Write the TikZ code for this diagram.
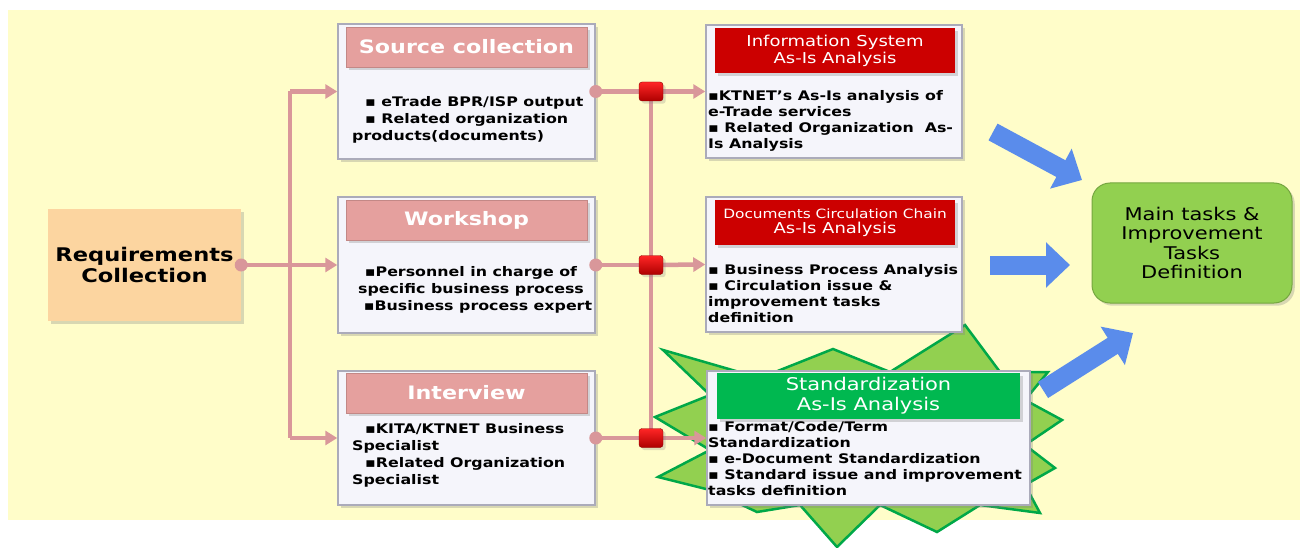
\documentclass[tikz,border=0pt]{standalone}
\usepackage{fontspec}
\setmainfont[FakeStretch=1.2]{DejaVu Sans}
\usepackage{tikz}
\usetikzlibrary{shadows,arrows.meta,positioning}

\definecolor{bgyellow}{HTML}{FFFDC9}
\definecolor{reqfill}{HTML}{FCD5A0}
\definecolor{pinkline}{HTML}{D9979A}
\definecolor{pinkhead}{HTML}{E5A09E}
\definecolor{cardfill}{HTML}{F5F5FB}
\definecolor{cardline}{HTML}{ABABBA}
\definecolor{redhead}{HTML}{CC0000}
\definecolor{greenhead}{HTML}{00B850}
\definecolor{burst}{HTML}{92D050}
\definecolor{burstline}{HTML}{00A848}
\definecolor{bluearrow}{HTML}{5A8CEB}

\begin{document}
\begin{tikzpicture}[x=1pt,y=-1pt,
  card/.style={draw=cardline,fill=cardfill,line width=1.5pt,drop shadow={opacity=0.3}},
  pinktitle/.style={fill=pinkhead,draw=pinkhead!85!black,text=white,minimum width=241pt,minimum height=40pt,
    font=\fontsize{18.5}{20}\selectfont\bfseries,drop shadow={opacity=0.3}},
  redtitle/.style={fill=redhead,text=white,align=center,minimum width=240pt,minimum height=45pt,
    inner sep=0pt,drop shadow={opacity=0.3}},
  body/.style={inner sep=0pt,text=black,font=\fontsize{13.2}{17}\selectfont\bfseries},
  rbody/.style={body,anchor=west,align=left,font=\fontsize{13.2}{16}\selectfont\bfseries},
  link/.style={draw=pinkline,line width=4.5pt},
  linkto/.style={link,-{Triangle[length=12pt,width=14pt]}},
  hub/.style={top color=red!85!white,bottom color=redhead!85!black,draw=redhead!70!black,rounded corners=3pt,
    minimum width=24pt,minimum height=19pt,inner sep=0pt,drop shadow={opacity=0.25}},
  fat/.style={draw=bluearrow,line width=19pt,-{Triangle[length=24pt,width=44pt]}}]

% background
\fill[bgyellow] (8,10) rectangle (1300,520);
\useasboundingbox (0,0) rectangle (1308,548);

% burst behind the standardization box
\filldraw[fill=burst,draw=burstline,line width=2.5pt,line join=miter]
  (663,350) -- (760,378) -- (833,349) -- (890,372) -- (965,325) -- (1000,372)
  -- (1048,372) -- (1025,400) -- (1062,420) -- (1025,445) -- (1055,468)
  -- (1025,485) -- (1040,513) -- (980,505) -- (937,532) -- (880,505)
  -- (837,547) -- (800,505) -- (757,512) -- (710,490) -- (658,477)
  -- (710,450) -- (655,417) -- (710,395) -- cycle;

% left
\node[fill=reqfill,minimum width=193pt,minimum height=112pt,align=center,
  font=\fontsize{18.8}{21}\selectfont\bfseries,drop shadow={opacity=0.3}] (req) at (144.5,265)
  {Requirements\\Collection};

% sources
\node[card,minimum width=257pt,minimum height=135pt] (src) at (466.5,91.5) {};
\node[pinktitle] (srchead) at (466.5,47) {Source collection};
\node[body,anchor=west,align=left] (srctxt) at (352,119.5)
  {\hspace*{13pt}▪ eTrade BPR/ISP output\\\hspace*{13pt}▪ Related organization\\products(documents)};

\node[card,minimum width=257pt,minimum height=136pt] (wsp) at (466.5,265) {};
\node[pinktitle] (wsphead) at (466.5,220) {Workshop};
\node[body,align=center] (wsptxt) at (471,290)
  {▪Personnel in charge of\\specific business process\\\hspace*{14pt}▪Business process expert};

\node[card,minimum width=257pt,minimum height=134pt] (itv) at (466.5,438) {};
\node[pinktitle] (itvhead) at (466.5,393) {Interview};
\node[body,anchor=west,align=left] (itvtxt) at (352,455.5)
  {\hspace*{13pt}▪KITA/KTNET Business\\Specialist\\\hspace*{13pt}▪Related Organization\\Specialist};

% analysis boxes
\node[card,minimum width=256pt,minimum height=133pt] (info) at (834,91.5) {};
\node[redtitle,font=\fontsize{15}{17}\selectfont] (infohead) at (835,50.5)
  {Information System\\As-Is Analysis};
\node[rbody] (infotxt) at (708,121)
  {▪KTNET’s As-Is analysis of\\e-Trade services\\▪ Related Organization\ \ As-\\Is Analysis};

\node[card,minimum width=256pt,minimum height=135pt] (docs) at (834,264.5) {};
\node[redtitle] (docshead) at (835,222.5)
  {{\fontsize{12.8}{17}\selectfont Documents Circulation Chain}\\[3pt]{\fontsize{15}{17}\selectfont As-Is Analysis}};
\node[rbody] (docstxt) at (708,294)
  {▪ Business Process Analysis\\▪ Circulation issue \&\\improvement tasks\\definition};

\node[card,minimum width=323pt,minimum height=134pt] (std) at (868.5,438) {};
\node[redtitle,fill=greenhead,minimum width=303pt,minimum height=46pt,
  font=\fontsize{17.5}{20}\selectfont] (stdhead) at (868.5,396)
  {Standardization\\As-Is Analysis};
\node[rbody,font=\fontsize{13.2}{15.8}\selectfont\bfseries] (stdtxt) at (708,458.5)
  {▪ Format/Code/Term\\Standardization\\▪ e-Document Standardization\\▪ Standard issue and improvement\\tasks definition};

% result
\node[fill=burst,draw=burst!80!black,line width=1pt,rounded corners=18pt,minimum width=200pt,
  minimum height=120pt,align=center,font=\fontsize{17.5}{19.5}\selectfont,drop shadow={opacity=0.3}]
  (tasks) at (1192,243) {Main tasks \&\\Improvement\\Tasks\\Definition};

% connectors
\coordinate (split) at (290,265);
\draw[link] (req.east) -- (split);
\draw[link] (src.west -| split) -- (itv.west -| split);
\draw[linkto] (src.west -| split) -- (src.west);
\draw[linkto] (wsp.west -| split) -- (wsp.west);
\draw[linkto] (itv.west -| split) -- (itv.west);
\fill[pinkline] (req.east) circle (6.5);

\coordinate (hubline) at (651,0);
\coordinate (h1) at (src.east -| hubline);
\coordinate (h2) at (wsp.east -| hubline);
\coordinate (h3) at (itv.east -| hubline);
\draw[link] (src.east) -- (h1);
\draw[link] (wsp.east) -- (h2);
\draw[link] (itv.east) -- (h3);
\draw[link] (h1) -- (h3);
\draw[linkto] (h1) -- (info.west);
\draw[linkto] (h2) -- (docs.west);
\draw[linkto] (h3) -- (std.west);
\node[hub] (hub1) at (h1) {};
\node[hub] (hub2) at (h2) {};
\node[hub] (hub3) at (h3) {};
\foreach \b in {src,wsp,itv}
  \fill[pinkline] (\b.east) circle (6.5);

% blue arrows
\coordinate (a1) at (993,132);
\coordinate (b1) at (1082,180);
\coordinate (a2) at (990,265);
\coordinate (b2) at (1070,265);
\coordinate (a3) at (1043,390);
\coordinate (b3) at (1133,333);
\draw[fat] (a1) -- (b1);
\draw[fat] (a2) -- (b2);
\draw[fat] (a3) -- (b3);
\end{tikzpicture}
\end{document}
